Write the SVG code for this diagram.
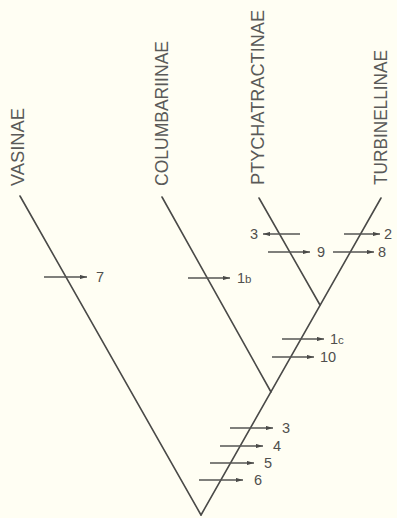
<svg xmlns="http://www.w3.org/2000/svg" width="397" height="518" viewBox="0 0 397 518">
<style>
.br{stroke:#4a4a48;stroke-width:1.6;fill:none;stroke-linecap:round}
.ar{stroke:#555553;stroke-width:1.3;fill:none;marker-end:url(#ah)}
.tx{font-family:"Liberation Sans",Arial,sans-serif;font-size:18px;fill:#5a5a58}
.nm{font-family:"Liberation Sans",Arial,sans-serif;font-size:14.5px;fill:#4f4f4d}
.sm{font-size:11.5px}
</style>
<defs>
<marker id="ah" viewBox="0 0 10 6" refX="10" refY="3" markerWidth="7" markerHeight="4.2" markerUnits="userSpaceOnUse" orient="auto">
<path d="M0,0 L10,3 L0,6 Z" fill="#4a4a48"/>
</marker>
</defs>
<rect width="397" height="518" fill="#fffef3"/>
<g id="connectors">
<line class="br" x1="201" y1="515" x2="20" y2="196"/>
<line class="br" x1="201" y1="515" x2="381" y2="198"/>
<line class="br" x1="271" y1="392" x2="162" y2="197"/>
<line class="br" x1="320" y1="305" x2="259" y2="198"/>
<line class="ar" x1="44" y1="277" x2="87" y2="277"/>
<line class="ar" x1="188" y1="278" x2="230" y2="278"/>
<line class="ar" x1="300" y1="234" x2="263" y2="234"/>
<line class="ar" x1="344" y1="234" x2="380" y2="234"/>
<line class="ar" x1="268" y1="252" x2="310" y2="252"/>
<line class="ar" x1="333" y1="252" x2="374" y2="252"/>
<line class="ar" x1="282" y1="339" x2="324" y2="339"/>
<line class="ar" x1="272" y1="357" x2="314" y2="357"/>
<line class="ar" x1="230" y1="428" x2="273" y2="428"/>
<line class="ar" x1="220" y1="446" x2="263" y2="446"/>
<line class="ar" x1="210" y1="463" x2="254" y2="463"/>
<line class="ar" x1="199" y1="480" x2="243" y2="480"/>
</g>
<g id="vasinae"><text class="tx" transform="translate(24,186) rotate(-90)" textLength="78" lengthAdjust="spacingAndGlyphs">VASINAE</text></g>
<g id="columbariinae"><text class="tx" transform="translate(168,186) rotate(-90)" textLength="145" lengthAdjust="spacingAndGlyphs">COLUMBARIINAE</text></g>
<g id="ptychatractinae"><text class="tx" transform="translate(264,185) rotate(-90)" textLength="175" lengthAdjust="spacingAndGlyphs">PTYCHATRACTINAE</text></g>
<g id="turbinellinae"><text class="tx" transform="translate(387,185) rotate(-90)" textLength="135" lengthAdjust="spacingAndGlyphs">TURBINELLINAE</text></g>
<g id="labels">
<text class="nm" x="96" y="282">7</text>
<text class="nm" x="237" y="283">1<tspan class="sm">b</tspan></text>
<text class="nm" x="258" y="239" text-anchor="end">3</text>
<text class="nm" x="384" y="239">2</text>
<text class="nm" x="317" y="257">9</text>
<text class="nm" x="378" y="257">8</text>
<text class="nm" x="330" y="344">1<tspan class="sm">c</tspan></text>
<text class="nm" x="320" y="362">10</text>
<text class="nm" x="282" y="433">3</text>
<text class="nm" x="273" y="451">4</text>
<text class="nm" x="264" y="468">5</text>
<text class="nm" x="254" y="485">6</text>
</g>
</svg>
